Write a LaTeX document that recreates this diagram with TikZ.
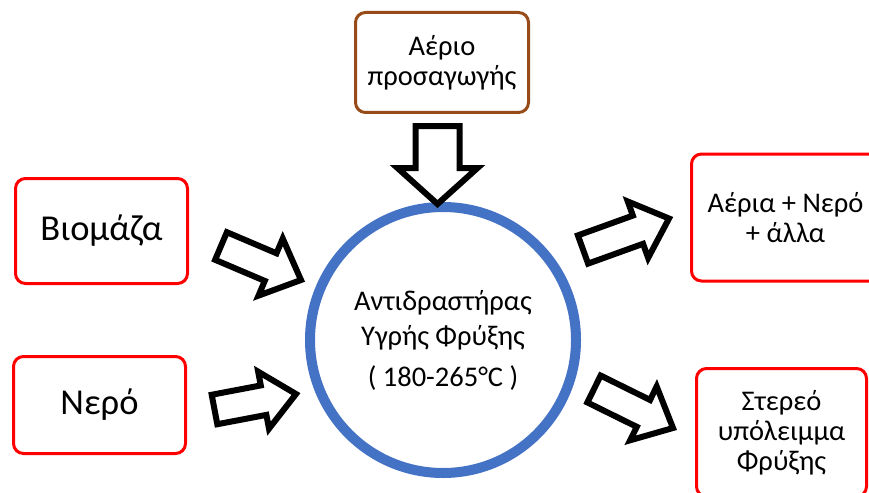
\documentclass[tikz,border=0pt]{standalone}
\usepackage{fontspec}
\setmainfont{Carlito}
\usetikzlibrary{calc}

\definecolor{boxred}{RGB}{255,0,0}
\definecolor{boxbrown}{RGB}{150,75,25}
\definecolor{reactorblue}{RGB}{68,114,196}

% hollow block arrow: tail, tip, shaft half width, head half width, head length
\newcommand{\blockarrow}[5]{%
  \coordinate (head) at ($(#2)!#5!(#1)$);
  \draw[fat] ($(#1)!#3!90:(#2)$) -- ($(head)!#3!90:(#2)$) -- ($(head)!#4!90:(#2)$)
    -- (#2) -- ($(head)!#4!-90:(#2)$) -- ($(head)!#3!-90:(#2)$) -- ($(#1)!#3!-90:(#2)$) -- cycle;}

\begin{document}
\begin{tikzpicture}
[x=1pt, y=-1pt,
 feed/.style={rectangle, rounded corners=10pt, draw=boxred, line width=3pt, align=center,
   minimum width=172pt, font=\fontsize{28.5}{30}\selectfont},
 product/.style={feed, minimum width=170pt},
 gasin/.style={feed, draw=boxbrown},
 reactor/.style={circle, draw=reactorblue, line width=10pt, minimum size=266pt, align=center,
   font=\fontsize{28.5}{35}\selectfont},
 fat/.style={draw=black, fill=white, line width=6pt, line join=miter}]
    \useasboundingbox (0,0) rectangle (869,492);
    \clip (0,0) rectangle (869,492);
    \node[reactor](reactor) at (443,340) {Αντιδραστήρας\\Υγρής Φρύξης\\[6pt]( 180-265°C )};
    \node[feed, minimum height=105pt, font=\fontsize{36.5}{40}\selectfont](biomass) at (101.5,231) {Βιομάζα};
    \node[feed, minimum height=97pt, font=\fontsize{36.5}{40}\selectfont](water) at (99.5,405) {Νερό};
    \node[gasin, minimum height=100pt, minimum width=173pt](gas) at (442,62.5) {Αέριο\\προσαγωγής};
    \node[product, minimum height=127pt, minimum width=188pt](gases) at (785.5,217.5) {Αέρια + Νερό\\+ άλλα};
    \node[product, minimum height=128pt](solid) at (781.5,432.5) {Στερεό\\υπόλειμμα\\Φρύξης};
    % arrow ends
    \coordinate (gastail) at (437.5,126);
    \coordinate (gastip) at (437.5,204);
    \coordinate (biotail) at (221,246);
    \coordinate (biotip) at (301,280);
    \coordinate (watertail) at (214.5,409.5);
    \coordinate (watertip) at (296,394);
    \coordinate (gasestail) at (583,249.5);
    \coordinate (gasestip) at (669,218.5);
    \coordinate (solidtail) at (594,389);
    \coordinate (solidtip) at (673,428);
    \blockarrow{gastail}{gastip}{22pt}{40pt}{36pt}
    \blockarrow{biotail}{biotip}{15pt}{31pt}{33pt}
    \blockarrow{watertail}{watertip}{15pt}{29pt}{33pt}
    \blockarrow{gasestail}{gasestip}{15pt}{30pt}{33pt}
    \blockarrow{solidtail}{solidtip}{15pt}{30pt}{33pt}
\end{tikzpicture}
\end{document}
